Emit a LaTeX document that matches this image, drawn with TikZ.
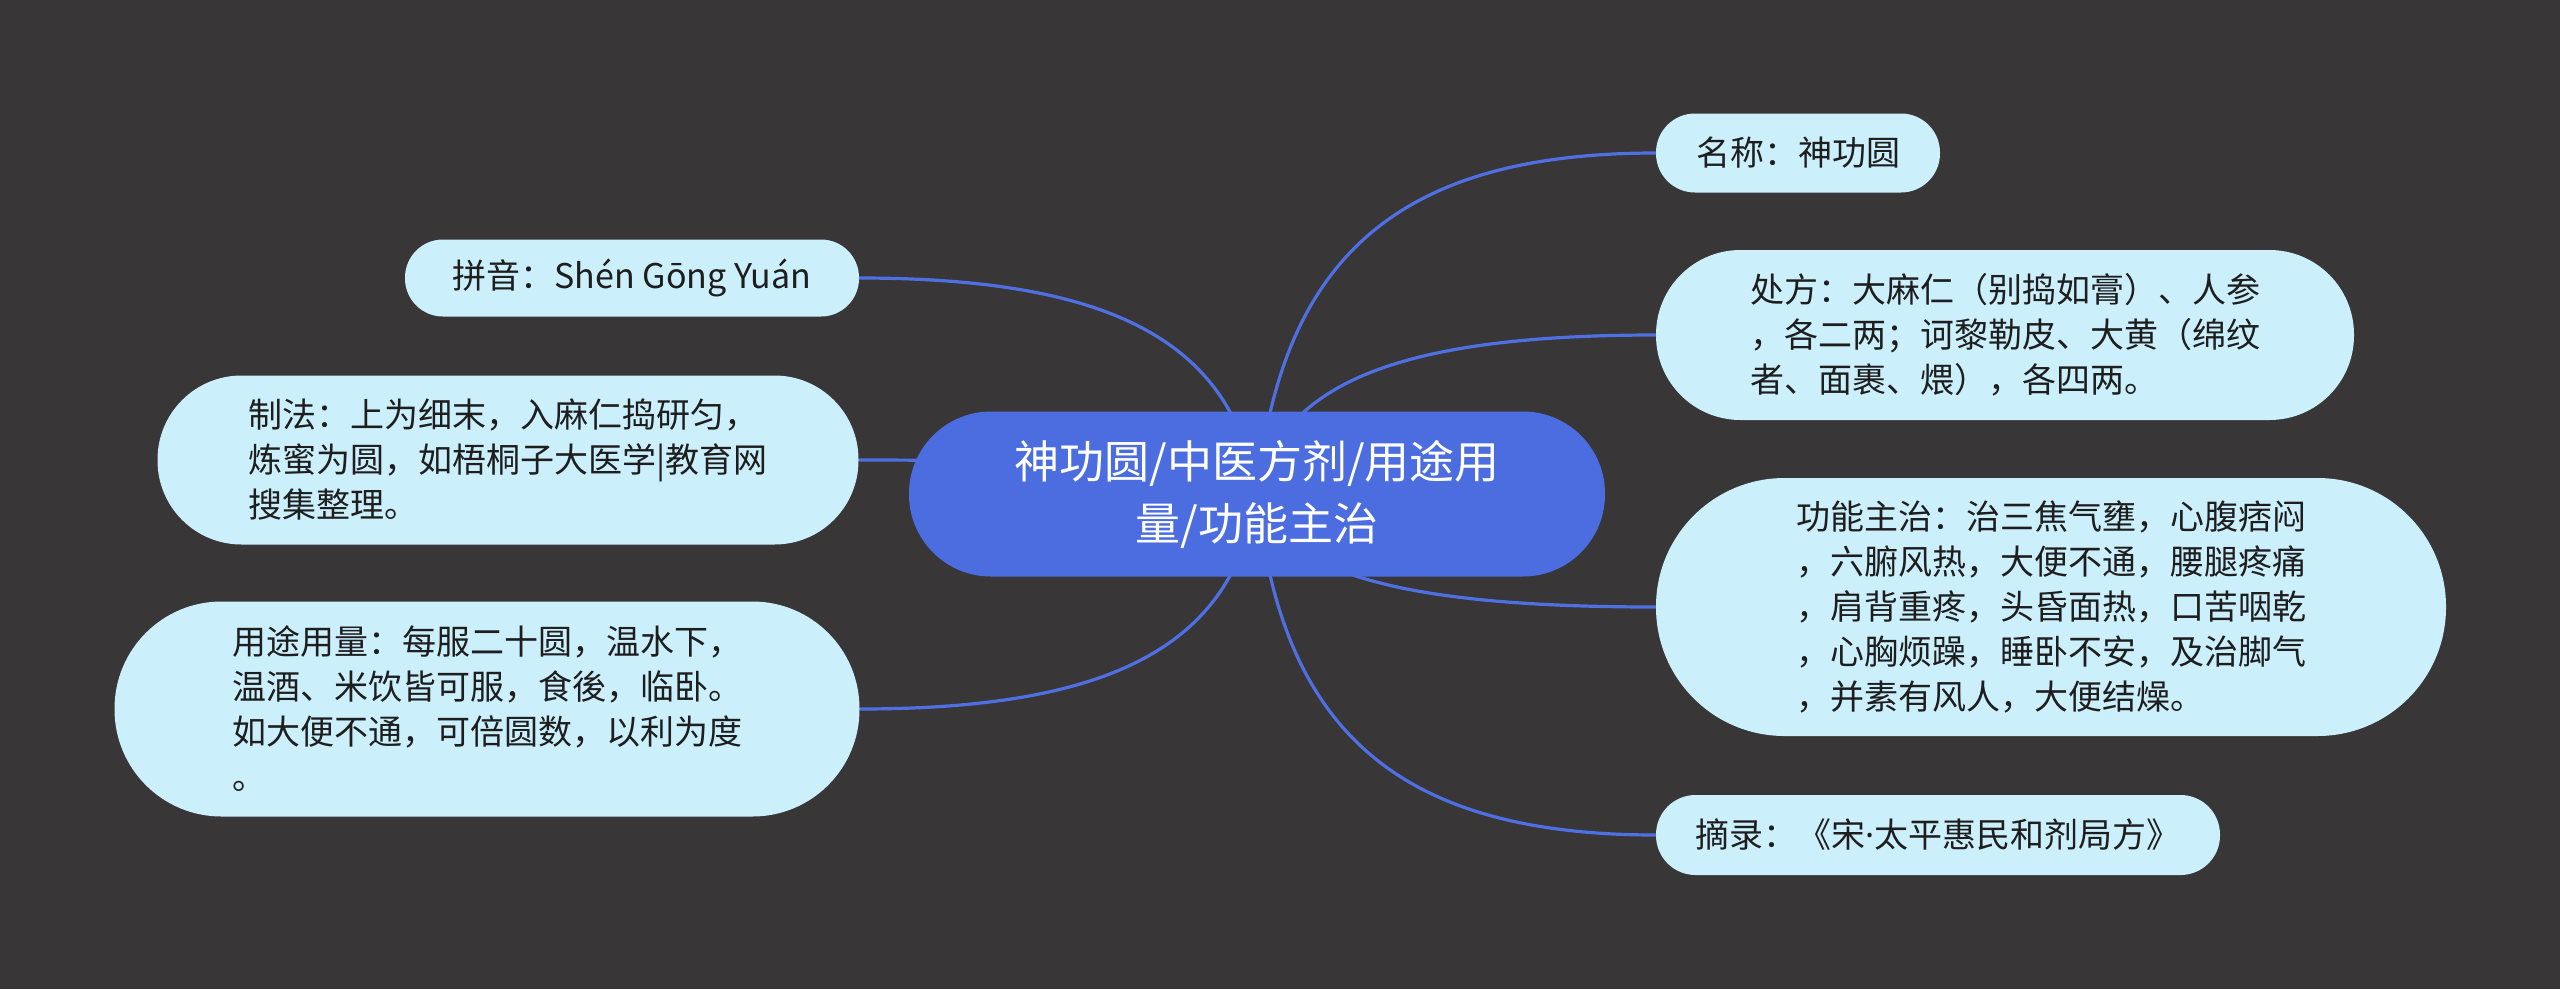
\documentclass[tikz,border=0pt]{standalone}
\usepackage{fontspec}
\newfontfamily\cjk{Noto Sans CJK SC}
\newfontfamily\latinsans{Noto Sans}
\usetikzlibrary{calc}
\definecolor{bgc}{HTML}{383637}
\definecolor{leaf}{HTML}{CCEFFC}
\definecolor{hub}{HTML}{4C6DE0}
\definecolor{edgec}{HTML}{4E70E2}
\definecolor{ink}{HTML}{1E1E1E}
\pgfdeclarelayer{bglayer}
\pgfdeclarelayer{edgelayer}
\pgfsetlayers{bglayer,edgelayer,main}
\newcommand\mmlink[2]{%
  \draw[branch] let \p1=(#1), \p2=(#2) in
    (\p1) .. controls ({\x1+0.06*(\x2-\x1)},{\y1+0.7*(\y2-\y1)}) and ({\x1+0.36*(\x2-\x1)},\y2) .. (\p2);}
\begin{document}
\begin{tikzpicture}[x=1pt,y=-1pt,
  sized/.style 2 args={minimum width=#1, minimum height=#2, rounded corners=#2*0.5-0.5},
  leafbox/.style={fill=leaf, text=ink, font=\cjk\fontsize{34}{45}\selectfont, align=left, inner sep=0pt},
  hubbox/.style={fill=hub, text=white, font=\cjk\fontsize{45}{62}\selectfont, align=center, inner sep=0pt},
  branch/.style={draw=edgec, line width=3.2pt}]
\begin{pgfonlayer}{bglayer}
\fill[bgc] (0,0) rectangle (2560,989);
\end{pgfonlayer}
\useasboundingbox (0,0) rectangle (2560,989);

\node[hubbox, sized={696}{165}] (c) at (1257,494) {神功圆/中医方剂/用途用\\量/功能主治};

\node[leafbox, sized={284}{79}] (n1) at (1798,153) {名称：神功圆};
\node[leafbox, sized={698}{170}] (n2) at (2005,335) {处方：大麻仁（别捣如膏）、人参\\，各二两；诃黎勒皮、大黄（绵纹\\者、面裹、煨），各四两。};
\node[leafbox, sized={790}{258}] (n3) at (2051,607) {功能主治：治三焦气壅，心腹痞闷\\，六腑风热，大便不通，腰腿疼痛\\，肩背重疼，头昏面热，口苦咽乾\\，心胸烦躁，睡卧不安，及治脚气\\，并素有风人，大便结燥。};
\node[leafbox, sized={564}{80}] (n4) at (1938,835) {摘录：《宋{\latinsans ·}太平惠民和剂局方》};
\node[leafbox, sized={454}{77}] (n5) at (632,278) {拼音：Shén Gōng Yuán};
\node[leafbox, sized={701}{169}] (n6) at (508,460) {制法：上为细末，入麻仁捣研匀，\\炼蜜为圆，如梧桐子大医学|教育网\\搜集整理。};
\node[leafbox, sized={745}{215}] (n7) at (487,709) {用途用量：每服二十圆，温水下，\\温酒、米饮皆可服，食後，临卧。\\如大便不通，可倍圆数，以利为度\\。};

\begin{pgfonlayer}{edgelayer}
\mmlink{c.center}{n1.west}
\mmlink{c.center}{n2.west}
\mmlink{c.center}{n3.west}
\mmlink{c.center}{n4.west}
\mmlink{c.center}{n5.east}
\mmlink{c.center}{n6.east}
\mmlink{c.center}{n7.east}
\end{pgfonlayer}
\end{tikzpicture}
\end{document}
